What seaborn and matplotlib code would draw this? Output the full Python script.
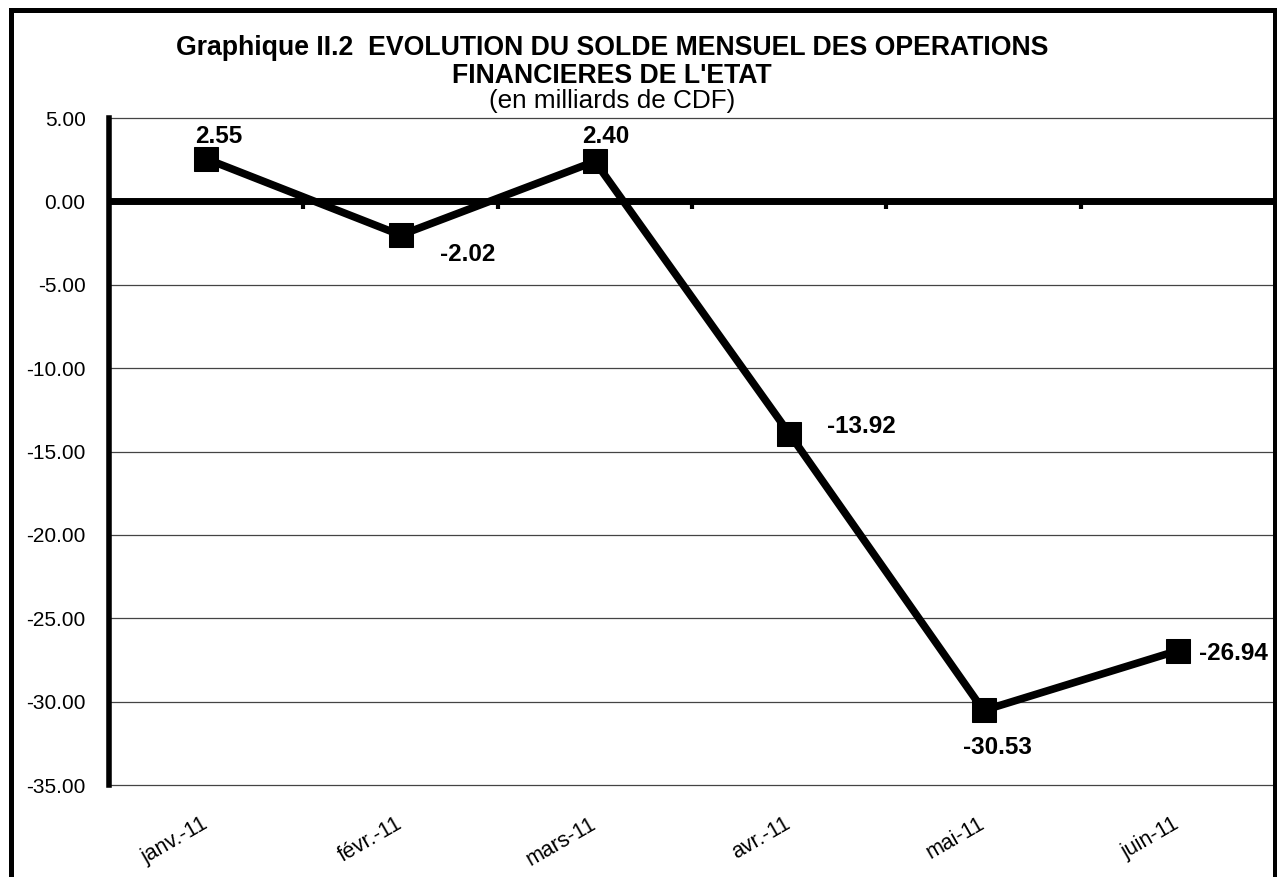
import numpy as np
import pandas as pd
import seaborn as sns
import matplotlib.pyplot as plt
from matplotlib.patches import Rectangle

# données du graphique
mois = ['janv.-11', 'févr.-11', 'mars-11', 'avr.-11', 'mai-11', 'juin-11']
solde = [2.55, -2.02, 2.40, -13.92, -30.53, -26.94]
yticks = [5, 0, -5, -10, -15, -20, -25, -30, -35]

# décalage des étiquettes (en points)
offsets = [(9, 16), (48, -14), (8, 18), (52, 5), (10, -27), (40, -2)]

sns.set_style('white')
plt.rcParams['font.family'] = ['Liberation Sans', 'DejaVu Sans']
plt.rcParams['text.color'] = 'black'
plt.rcParams['xtick.color'] = 'black'
plt.rcParams['ytick.color'] = 'black'

df = pd.DataFrame({'mois': mois, 'solde': solde})
df['x'] = np.arange(len(mois))

fig = plt.figure(figsize=(12.77, 8.77), dpi=100)
ax = fig.add_axes([0.0855, 0.1049, 0.9129, 0.7605])

# cadre du graphique
fig.patches.append(Rectangle((0.0086, -0.2), 0.9898, 1.1886, transform=fig.transFigure,
                             fill=False, edgecolor='black', linewidth=3.6))

# grille horizontale
for v in yticks:
    ax.axhline(v, color='#444444', linewidth=0.9, zorder=1, clip_on=False)
ax.axhline(0, color='black', linewidth=5, zorder=2)

sns.lineplot(data=df, x='x', y='solde', ax=ax, color='black', linewidth=5.5,
             marker='s', markersize=17, markeredgecolor='black', zorder=3)

for i, (xv, yv) in enumerate(zip(df['x'], df['solde'])):
    ax.annotate('{:.2f}'.format(yv), (xv, yv), xytext=offsets[i], textcoords='offset points',
                ha='center', va='center', fontsize=17.5, fontweight='bold', zorder=4)

ax.set_xlim(-0.5, len(mois) - 0.5)
ax.set_ylim(-35, 5)
ax.set_yticks(yticks)
ax.set_yticklabels(['{:.2f}'.format(v) for v in yticks], fontsize=15)
ax.set_xticks(df['x'])
ax.set_xticklabels(mois, fontsize=15.5, rotation=30, ha='right', va='center', rotation_mode='anchor')
ax.tick_params(axis='x', length=0, pad=27)
ax.tick_params(axis='y', length=4, width=3, pad=13, color='black')
ax.set_xlabel('')
ax.set_ylabel('')

for s in ['top', 'right', 'bottom']:
    ax.spines[s].set_visible(False)
ax.spines['left'].set_linewidth(4)
ax.spines['left'].set_color('black')

# petites graduations sur l'axe des abscisses (à 0)
sec = ax.secondary_xaxis(35 / 40)
sec.set_xticks(np.arange(0.5, len(mois) - 1, 1))
sec.set_xticklabels([])
sec.tick_params(direction='in', length=6, width=3, color='black')
sec.spines['bottom'].set_visible(False)
sec.spines['top'].set_visible(False)

# titre
fig.text(0.4792, 0.9373, "Graphique II.2  EVOLUTION DU SOLDE MENSUEL DES OPERATIONS",
         ha='center', va='baseline', fontsize=19.2, fontweight='bold')
fig.text(0.4792, 0.9054, "FINANCIERES DE L'ETAT",
         ha='center', va='baseline', fontsize=19.2, fontweight='bold')
fig.text(0.4792, 0.8769, "(en milliards de CDF)",
         ha='center', va='baseline', fontsize=18.8)

fig.savefig('out.png', dpi=100)
